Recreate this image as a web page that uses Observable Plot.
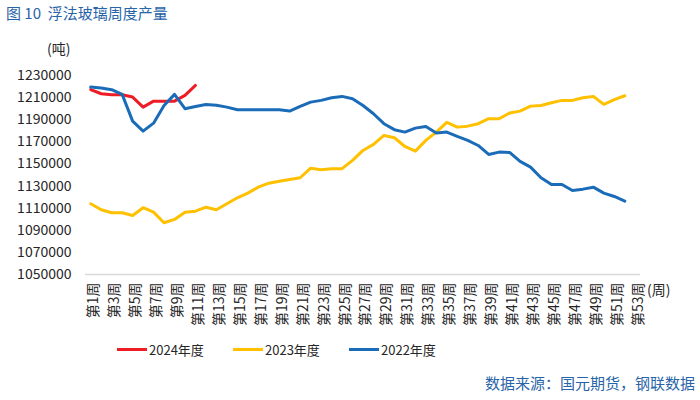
<!DOCTYPE html>
<html>
<head>
<meta charset="utf-8">
<script src="https://cdn.jsdelivr.net/npm/d3@7"></script>
<script src="https://cdn.jsdelivr.net/npm/@observablehq/plot@0.6"></script>
<style>
  html, body { margin: 0; padding: 0; background: #fff; }
  #wrap { position: relative; width: 700px; height: 400px; font-family: "Noto Sans CJK SC", "Noto Sans", sans-serif; color: #262626; overflow: hidden; }
  #chart { position: absolute; left: 0; top: 0; }
  .abs { position: absolute; white-space: nowrap; line-height: 1; }
  #title { left: 6px; top: 5px; font-size: 15px; color: #2864a8; }
  #unit { left: 47px; top: 41px; font-size: 14px; }
  #xunit { left: 647px; top: 282px; font-size: 14px; }
  #legend { left: 117px; top: 343px; font-size: 13px; display: flex; }
  .item { display: flex; align-items: center; }
  .sw { width: 30px; height: 3px; margin-right: 2px; }
  #source { right: 5px; top: 375px; font-size: 15px; color: #2864a8; }
</style>
</head>
<body>
<div id="wrap">
  <div id="title" class="abs">图 10&nbsp;&nbsp;浮法玻璃周度产量</div>
  <div id="unit" class="abs">(吨)</div>
  <div id="chart"></div>
  <div id="xunit" class="abs">(周)</div>
  <div id="legend" class="abs"></div>
  <div id="source" class="abs">数据来源：国元期货，钢联数据</div>
</div>
<script>
const weeks = ["第1周","第2周","第3周","第4周","第5周","第6周","第7周","第8周","第9周","第10周",
  "第11周","第12周","第13周","第14周","第15周","第16周","第17周","第18周","第19周","第20周",
  "第21周","第22周","第23周","第24周","第25周","第26周","第27周","第28周","第29周","第30周",
  "第31周","第32周","第33周","第34周","第35周","第36周","第37周","第38周","第39周","第40周",
  "第41周","第42周","第43周","第44周","第45周","第46周","第47周","第48周","第49周","第50周",
  "第51周","第52周","第53周"];
const xTickLabels = ["第1周","第3周","第5周","第7周","第9周","第11周","第13周","第15周","第17周","第19周",
  "第21周","第23周","第25周","第27周","第29周","第31周","第33周","第35周","第37周","第39周",
  "第41周","第43周","第45周","第47周","第49周","第51周","第53周"];
const yTicks = [1050000,1070000,1090000,1110000,1130000,1150000,1170000,1190000,1210000,1230000];

const seriesNames = ["2024年度","2023年度","2022年度"];
const seriesColors = ["#ee1c25","#ffc000","#1b6cb8"];

const values2024 = [1217200,1213500,1212600,1212600,1210500,1201400,1206800,1206800,1206800,1212000,1221000];
const values2023 = [1114000,1108600,1105800,1105800,1103400,1110400,1106400,1096800,1099800,1106400,
  1107300,1110900,1108600,1114000,1119400,1123600,1129000,1132600,1134400,1136000,
  1137500,1146200,1144800,1145700,1145700,1153200,1162200,1167700,1175800,1173700,
  1165800,1161600,1171300,1178800,1187600,1183300,1184200,1186400,1190900,1190900,
  1196000,1197800,1202300,1202900,1205400,1207500,1207500,1209900,1211100,1203900,
  1208100,1211700];
const values2022 = [1219500,1218600,1217200,1212900,1188700,1179700,1186900,1202900,1212900,1200000,
  1202000,1203800,1203000,1201400,1199000,1199000,1199000,1199000,1199000,1197800,
  1202000,1205900,1207500,1209900,1211100,1209000,1202900,1195400,1186400,1181000,
  1178800,1182400,1183900,1177900,1178800,1174900,1171300,1166700,1158600,1160700,
  1160400,1152300,1147100,1137500,1131400,1131400,1126000,1127200,1129000,1123600,
  1120600,1116300];

const toRows = (vals, name) => vals.map((v, i) => ({week: weeks[i], value: v, series: name}));
const rows2024 = toRows(values2024, seriesNames[0]);
const rows2023 = toRows(values2023, seriesNames[1]);
const rows2022 = toRows(values2022, seriesNames[2]);

const font = "'Noto Sans CJK SC', 'Noto Sans', sans-serif";

const chart = Plot.plot({
  width: 700,
  height: 340,
  marginTop: 75,
  marginBottom: 66,
  marginLeft: 85,
  marginRight: 60,
  style: { fontFamily: font, color: "#262626", background: "transparent" },
  x: { type: "point", domain: weeks, padding: 0.5, round: false },
  y: { domain: [1050000, 1230000] },
  marks: [
    Plot.ruleY([1050000], { stroke: "#d9d9d9", strokeWidth: 1.5 }),
    Plot.axisY({ ticks: yTicks, tickSize: 0, tickPadding: 14, tickFormat: d => String(d), fontSize: 14, label: null }),
    Plot.axisX({ ticks: xTickLabels, tickSize: 0, tickPadding: 8, tickRotate: -90, fontSize: 14, label: null, dx: 3 }),
    Plot.line(rows2024, { x: "week", y: "value", stroke: seriesColors[0], strokeWidth: 3, strokeLinejoin: "round", strokeLinecap: "round" }),
    Plot.line(rows2023, { x: "week", y: "value", stroke: seriesColors[1], strokeWidth: 3, strokeLinejoin: "round", strokeLinecap: "round" }),
    Plot.line(rows2022, { x: "week", y: "value", stroke: seriesColors[2], strokeWidth: 3, strokeLinejoin: "round", strokeLinecap: "round" })
  ]
});
document.getElementById("chart").appendChild(chart);

const legend = document.getElementById("legend");
seriesNames.forEach((name, i) => {
  const item = document.createElement("div");
  item.className = "item";
  const sw = document.createElement("div");
  sw.className = "sw";
  sw.style.background = seriesColors[i];
  const tx = document.createElement("span");
  tx.textContent = name;
  item.appendChild(sw);
  item.appendChild(tx);
  item.style.width = (i < 2 ? 116 : 90) + "px";
  legend.appendChild(item);
});
</script>
</body>
</html>
